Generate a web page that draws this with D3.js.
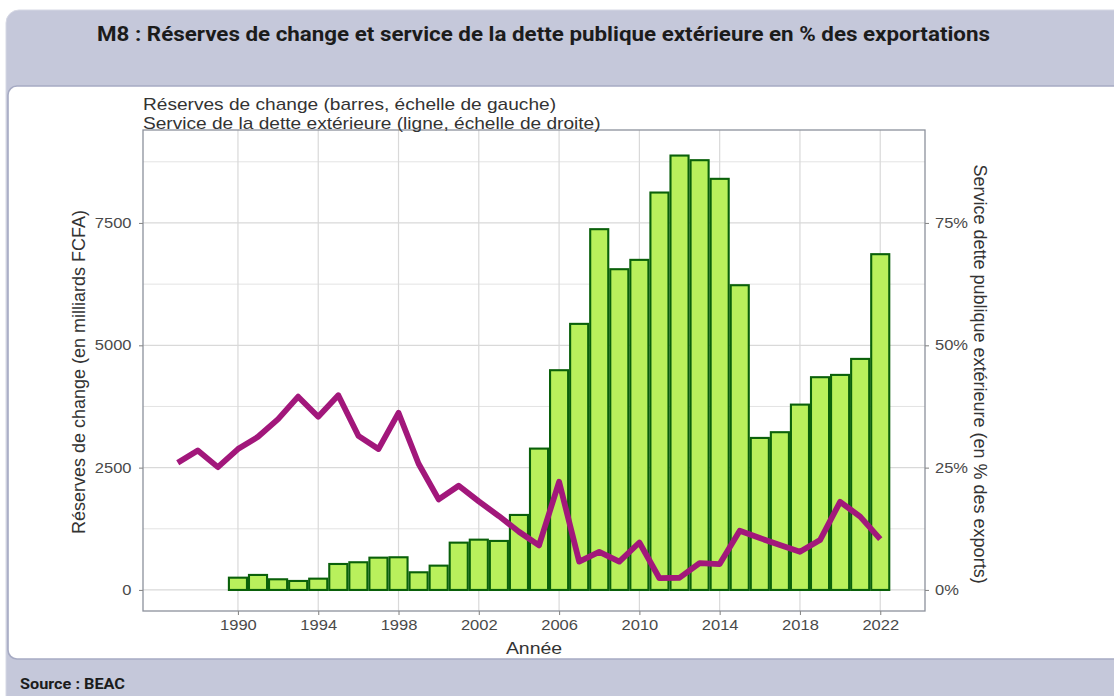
<!DOCTYPE html>
<html>
<head>
<meta charset="utf-8">
<script src="https://cdn.jsdelivr.net/npm/d3@7"></script>
<style>
  html, body { margin: 0; padding: 0; background: #ffffff; }
  svg { display: block; }
</style>
</head>
<body>
<svg id="chart" width="1114" height="696"></svg>
<script>
// ---------------- DATA ----------------
const barYears = [1990,1991,1992,1993,1994,1995,1996,1997,1998,1999,2000,2001,2002,2003,2004,2005,
                  2006,2007,2008,2009,2010,2011,2012,2013,2014,2015,2016,2017,2018,2019,2020,2021,2022];
const reserves = [251,307,218,184,231,531,566,660,668,361,497,967,1028,1002,1533,2889,
                  4491,5438,7373,6555,6746,8122,8878,8783,8402,6228,3107,3224,3788,4348,4395,4722,6862];
const lineYears = [1987,1988,1989,1990,1991,1992,1993,1994,1995,1996,1997,1998,1999,2000,2001,2002,2003,2004,2005,
                   2006,2007,2008,2009,2010,2011,2012,2013,2014,2015,2016,2017,2018,2019,2020,2021,2022];
const debtService = [26.0,28.5,25.1,28.8,31.3,34.9,39.5,35.4,39.8,31.5,28.8,36.2,25.8,18.5,21.3,18.1,15.1,11.9,9.1,
                     22.1,5.8,7.8,5.8,9.7,2.4,2.5,5.5,5.3,12.1,10.6,9.2,7.8,10.2,18.0,15.0,10.4];
const leftTicks = [0, 2500, 5000, 7500];
const leftMinor = [1250, 3750, 6250, 8750];
const rightTicks = [0, 25, 50, 75];
const xTicks = [1990,1994,1998,2002,2006,2010,2014,2018,2022];

const titleText = "M8 : Réserves de change et service de la dette publique extérieure en % des exportations";
const subtitle1 = "Réserves de change (barres, échelle de gauche)";
const subtitle2 = "Service de la dette extérieure (ligne, échelle de droite)";
const leftTitle = "Réserves de change (en milliards FCFA)";
const rightTitle = "Service dette publique extérieure (en % des exports)";
const xTitle = "Année";
const sourceText = "Source : BEAC";

// ---------------- LAYOUT ----------------
const svg = d3.select("#chart");
const W = 1114, H = 696;
const P = {left: 143, right: 925, top: 130, bottom: 611};
const S = 1.18; // horizontal stretch of chart text
const FONT = "'Liberation Sans', Arial, sans-serif";

// card background
svg.append("rect").attr("x",0).attr("y",0).attr("width",W).attr("height",H).attr("fill","#ffffff");
svg.append("rect").attr("x",6).attr("y",10).attr("width",1200).attr("height",700).attr("rx",13)
   .attr("fill","#c5c8da").attr("stroke","#d6d8e4").attr("stroke-width",1);
svg.append("rect").attr("x",8).attr("y",86).attr("width",1200).attr("height",573).attr("rx",9)
   .attr("fill","#ffffff").attr("stroke","#a6aac3").attr("stroke-width",1.6);

svg.append("text").attr("x",97).attr("y",41)
   .attr("font-family","Roboto, 'Noto Sans', sans-serif").attr("font-weight","bold")
   .attr("font-size",20).attr("fill","#1c1c1c")
   .attr("textLength",893).attr("lengthAdjust","spacingAndGlyphs")
   .text(titleText);

svg.append("text").attr("x",20).attr("y",689)
   .attr("font-family","Roboto, 'Noto Sans', sans-serif").attr("font-weight","bold")
   .attr("font-size",14).attr("fill","#1c1c1c")
   .attr("textLength",105).attr("lengthAdjust","spacingAndGlyphs")
   .text(sourceText);

// ---------------- SCALES ----------------
const x = d3.scaleLinear().domain([1985.27, 2024.23]).range([P.left, P.right]);
const y = d3.scaleLinear().domain([-430, 9400]).range([P.bottom, P.top]);
const yR = d3.scaleLinear().domain([-4.30, 94.0]).range([P.bottom, P.top]);

const g = svg.append("g");

// grid
g.append("g").selectAll("line").data(leftMinor).join("line")
  .attr("x1",P.left).attr("x2",P.right).attr("y1",d=>y(d)).attr("y2",d=>y(d))
  .attr("stroke","#e3e3e3").attr("stroke-width",1);
g.append("g").selectAll("line").data(leftTicks).join("line")
  .attr("x1",P.left).attr("x2",P.right).attr("y1",d=>y(d)).attr("y2",d=>y(d))
  .attr("stroke","#d9d9d9").attr("stroke-width",1.2);
g.append("g").selectAll("line").data(xTicks).join("line")
  .attr("x1",d=>x(d)).attr("x2",d=>x(d)).attr("y1",P.top).attr("y2",P.bottom)
  .attr("stroke","#d9d9d9").attr("stroke-width",1.2);

// bars
const bw = x(1990.45) - x(1989.55);
g.append("g").selectAll("rect").data(barYears.map((yr,i)=>({yr, v:reserves[i]}))).join("rect")
  .attr("x", d => x(d.yr) - bw/2)
  .attr("width", bw)
  .attr("y", d => y(d.v))
  .attr("height", d => y(0) - y(d.v))
  .attr("fill","#b9f05c").attr("stroke","#0a600a").attr("stroke-width",2.1);

// line
const line = d3.line().x(d=>x(d.yr)).y(d=>yR(d.v));
g.append("path").datum(lineYears.map((yr,i)=>({yr, v:debtService[i]})))
  .attr("d", line).attr("fill","none").attr("stroke","#a2177b")
  .attr("stroke-width",5.8).attr("stroke-linejoin","round").attr("stroke-linecap","butt");

// panel border
g.append("rect").attr("x",P.left).attr("y",P.top).attr("width",P.right-P.left).attr("height",P.bottom-P.top)
  .attr("fill","none").attr("stroke","#8c919c").attr("stroke-width",1.3);

// ---------------- AXES ----------------
function stretchTicks(sel) {
  sel.selectAll(".tick text").each(function() {
    const t = d3.select(this);
    const xv = +t.attr("x") || 0;
    t.attr("x", xv / S).attr("transform", `scale(${S},1)`);
  });
}
function styleAxis(a) {
  a.select(".domain").remove();
  a.selectAll(".tick line").attr("stroke","#8a8a8a").attr("stroke-width",1.1);
  a.selectAll(".tick text").attr("fill","#4a4a4a").attr("font-family",FONT).attr("font-size",14);
}

const axL = svg.append("g").attr("transform",`translate(${P.left},0)`)
  .call(d3.axisLeft(y).tickValues(leftTicks).tickSize(4).tickPadding(7.5).tickFormat(d3.format("d")));
styleAxis(axL); stretchTicks(axL);

const axR = svg.append("g").attr("transform",`translate(${P.right},0)`)
  .call(d3.axisRight(yR).tickValues(rightTicks).tickSize(4).tickPadding(6).tickFormat(d=>d+"%"));
styleAxis(axR); stretchTicks(axR);

const axB = svg.append("g").attr("transform",`translate(0,${P.bottom})`)
  .call(d3.axisBottom(x).tickValues(xTicks).tickSize(4).tickPadding(5).tickFormat(d3.format("d")));
styleAxis(axB); stretchTicks(axB);

// ---------------- TEXTS ----------------
svg.append("text").attr("transform",`translate(${P.left},110) scale(${S},1)`)
  .attr("font-family",FONT).attr("font-size",16.2).attr("fill","#333333").text(subtitle1);
svg.append("text").attr("transform",`translate(${P.left},129) scale(${S},1)`)
  .attr("font-family",FONT).attr("font-size",16.2).attr("fill","#333333").text(subtitle2);

svg.append("text").attr("transform",`translate(${(P.left+P.right)/2},654) scale(${S},1)`)
  .attr("text-anchor","middle").attr("font-family",FONT).attr("font-size",16.5).attr("fill","#333333").text(xTitle);

svg.append("text").attr("transform",`translate(79,372) rotate(-90)`)
  .attr("text-anchor","middle").attr("dominant-baseline","central")
  .attr("font-family",FONT).attr("font-size",18).attr("fill","#333333").text(leftTitle);

svg.append("text").attr("transform",`translate(980,374) rotate(90)`)
  .attr("text-anchor","middle").attr("dominant-baseline","central")
  .attr("font-family",FONT).attr("font-size",18).attr("fill","#333333").text(rightTitle);
</script>
</body>
</html>
